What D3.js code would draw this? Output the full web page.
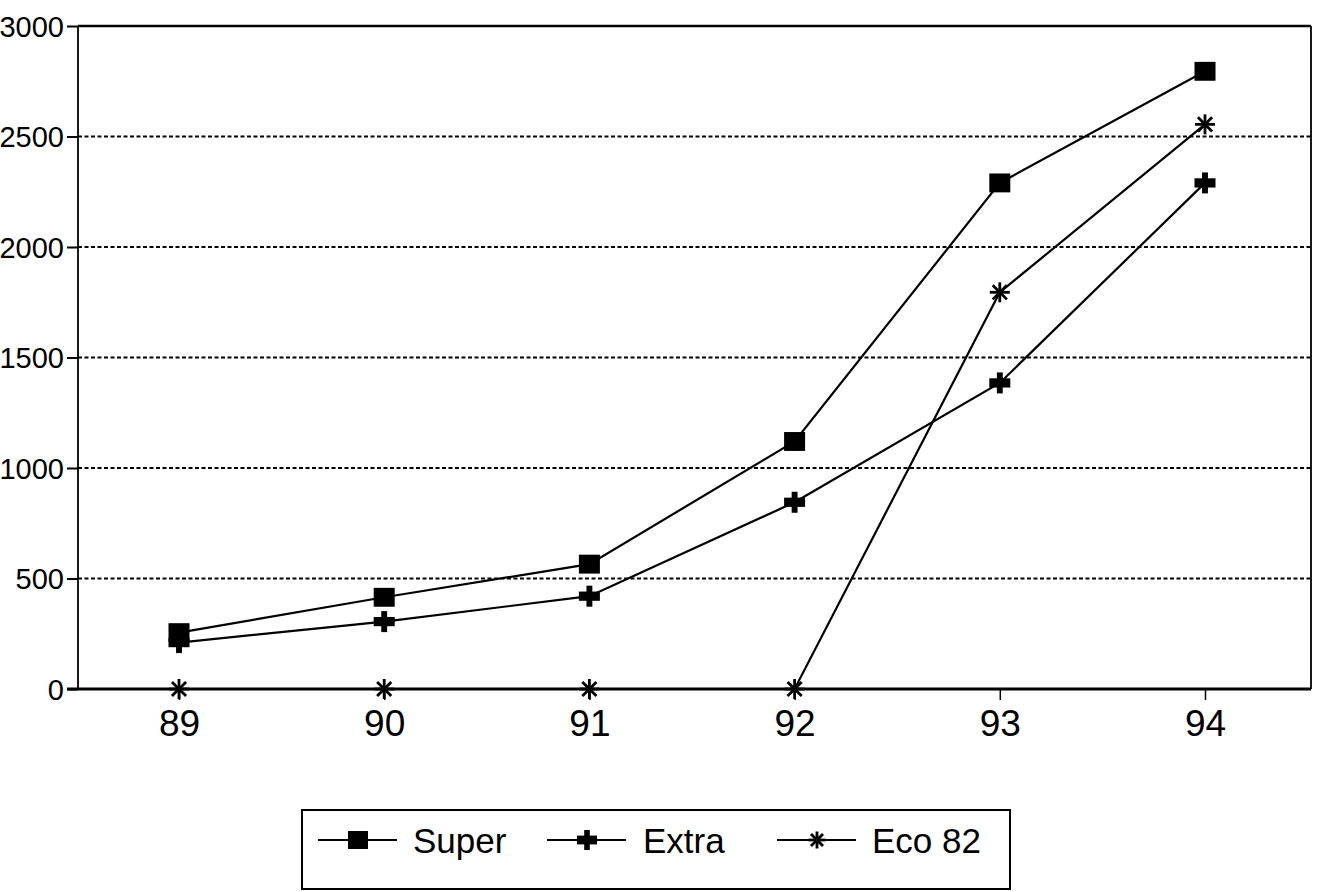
<!DOCTYPE html>
<html>
<head>
<meta charset="utf-8">
<script src="https://cdn.jsdelivr.net/npm/d3@7"></script>
<style>
  html, body { margin: 0; padding: 0; background: #fff; }
  svg { display: block; }
  text { font-family: "Liberation Sans", Arial, Helvetica, sans-serif; fill: #000; }
</style>
</head>
<body>
<div id="chart"></div>
<script>
// ---- data ----
const years = [89, 90, 91, 92, 93, 94];
const superVals = [255, 415, 565, 1120, 2290, 2795];
const extraVals = [210, 305, 420, 845, 1385, 2290];
const eco82Vals = [0, 0, 0, 0, 1795, 2555];
const seriesNames = ["Super", "Extra", "Eco 82"];
const yTicks = [0, 500, 1000, 1500, 2000, 2500, 3000];

const W = 1321, H = 892;
const frame = { left: 78, right: 1311, top: 26, bottom: 689 };

const svg = d3.select("#chart").append("svg")
  .attr("width", W).attr("height", H);

const x = d3.scaleLinear().domain([89, 94]).range([179, 1205]);
const y = d3.scaleLinear().domain([0, 3000]).range([frame.bottom, frame.top]);

// gridlines (dotted)
svg.append("g").selectAll("line")
  .data(yTicks.filter(d => d > 0 && d < 3000))
  .join("line")
  .attr("x1", frame.left).attr("x2", frame.right)
  .attr("y1", d => y(d)).attr("y2", d => y(d))
  .attr("stroke", "#000").attr("stroke-width", 2)
  .attr("stroke-dasharray", "4,2.5");

// frame
svg.append("line").attr("x1", frame.left).attr("x2", frame.right)
  .attr("y1", y(3000)).attr("y2", y(3000)).attr("stroke", "#000").attr("stroke-width", 2.5);
svg.append("line").attr("x1", frame.right).attr("x2", frame.right)
  .attr("y1", y(3000)).attr("y2", y(0)).attr("stroke", "#000").attr("stroke-width", 1.8);
svg.append("line").attr("x1", frame.left).attr("x2", frame.left)
  .attr("y1", y(3000)).attr("y2", y(0)).attr("stroke", "#000").attr("stroke-width", 1.8);

// y axis
const yAxis = d3.axisLeft(y).tickValues(yTicks).tickSize(11).tickPadding(3)
  .tickFormat(d3.format("d"));
const gy = svg.append("g").attr("transform", `translate(${frame.left},0)`).call(yAxis);
gy.select(".domain").remove();
gy.selectAll(".tick line").attr("stroke", "#000").attr("stroke-width", 2);
gy.selectAll(".tick text").attr("font-size", 29).attr("dy", "0.36em")
  .style("font-family", '"Liberation Sans", Arial, sans-serif');

// x axis baseline
svg.append("line").attr("x1", 67).attr("x2", frame.right)
  .attr("y1", y(0)).attr("y2", y(0)).attr("stroke", "#000").attr("stroke-width", 3);
const xAxis = d3.axisBottom(x).tickValues(years).tickSize(11).tickPadding(7)
  .tickFormat(d3.format("d"));
const gx = svg.append("g").attr("transform", `translate(0,${y(0)})`).call(xAxis);
gx.select(".domain").remove();
gx.selectAll(".tick line").attr("stroke", "#000").attr("stroke-width", 1.5);
gx.selectAll(".tick text").attr("font-size", 37).attr("dy", "0.78em")
  .style("font-family", '"Liberation Sans", Arial, sans-serif');

// markers
function squareMarker(g, s) {
  g.append("rect").attr("x", -s/2).attr("y", -s*0.45).attr("width", s).attr("height", s*0.9)
    .attr("fill", "#000");
}
function plusMarker(g, s) {
  g.append("rect").attr("x", -s/2).attr("y", -s*0.22).attr("width", s).attr("height", s*0.44).attr("fill", "#000");
  g.append("rect").attr("x", -s*0.14).attr("y", -s*0.5).attr("width", s*0.28).attr("height", s).attr("fill", "#000");
}
function asteriskMarker(g, s) {
  const r = s/2;
  const angles = [0, 45, 90, 135];
  angles.forEach(a => {
    const rad = a * Math.PI / 180;
    g.append("line")
      .attr("x1", -r*Math.cos(rad)).attr("y1", -r*Math.sin(rad))
      .attr("x2", r*Math.cos(rad)).attr("y2", r*Math.sin(rad))
      .attr("stroke", "#000").attr("stroke-width", 2.8);
  });
}

const series = [
  { name: seriesNames[0], values: superVals, marker: squareMarker, size: 21 },
  { name: seriesNames[1], values: extraVals, marker: plusMarker, size: 21 },
  { name: seriesNames[2], values: eco82Vals, marker: asteriskMarker, size: 20 }
];

const line = d3.line().x(d => x(d.x)).y(d => y(d.y));

series.forEach(s => {
  const pts = years.map((yr, i) => ({ x: yr, y: s.values[i] }));
  svg.append("path").datum(pts).attr("d", line)
    .attr("fill", "none").attr("stroke", "#000").attr("stroke-width", 2.2);
  pts.forEach(p => {
    const g = svg.append("g").attr("transform", `translate(${x(p.x)},${y(p.y)})`);
    s.marker(g, s.size);
  });
});

// legend
const legend = svg.append("g");
legend.append("rect").attr("x", 302).attr("y", 810).attr("width", 708).attr("height", 79)
  .attr("fill", "none").attr("stroke", "#000").attr("stroke-width", 2);
const legendItems = [
  { x0: 318, text: 413 },
  { x0: 547, text: 643 },
  { x0: 777, text: 872 }
];
series.forEach((s, i) => {
  const it = legendItems[i];
  const ly = 840;
  legend.append("line").attr("x1", it.x0).attr("x2", it.x0 + 79)
    .attr("y1", ly).attr("y2", ly).attr("stroke", "#000").attr("stroke-width", 2);
  const g = legend.append("g").attr("transform", `translate(${it.x0 + 40},${ly})`);
  s.marker(g, i === 2 ? 17 : 20);
  legend.append("text").attr("x", it.text).attr("y", 853)
    .attr("font-size", 35).text(s.name);
});
</script>
</body>
</html>
